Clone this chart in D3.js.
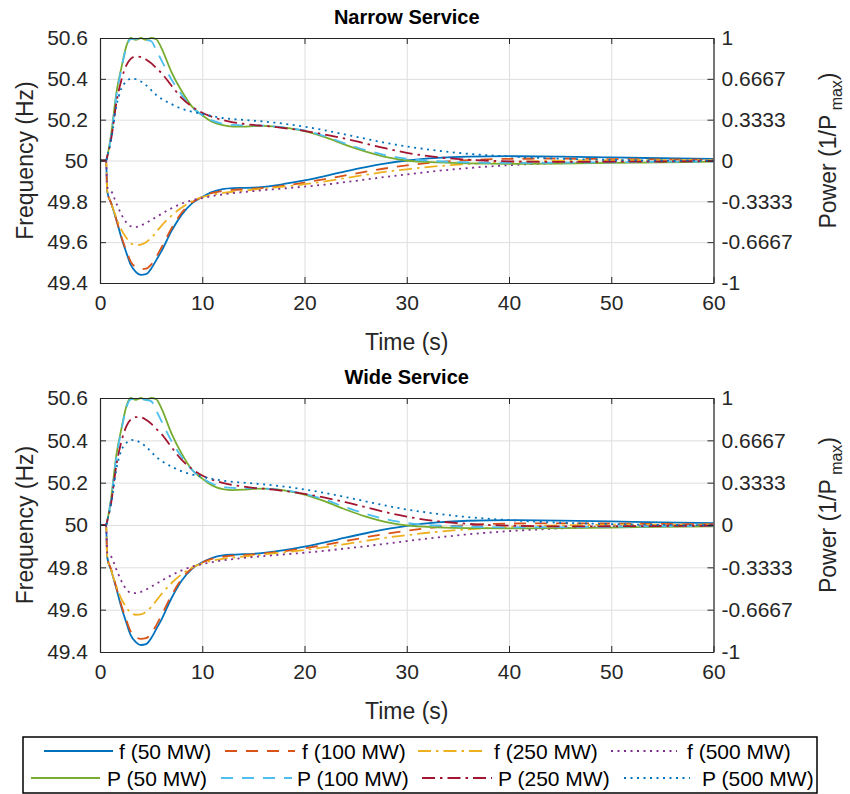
<!DOCTYPE html>
<html>
<head>
<meta charset="utf-8">
<script src="https://cdn.jsdelivr.net/npm/d3@7"></script>
<style>
  body { margin: 0; background: #fff; }
  svg { display: block; font-family: "Liberation Sans", Arial, sans-serif; }
</style>
</head>
<body>
<div id="chart"></div>
<script>
// Time axis (s), shared by every series
const time = [0, 0.6, 0.7, 1.1, 1.6, 2.1, 2.6, 3, 3.5, 4, 4.5, 5, 5.5, 6, 7, 8, 9, 10, 11, 12, 13, 14, 15, 16, 17, 18, 20, 22, 24, 26, 28, 30, 33, 36, 40, 45, 50, 55, 60];

// Narrow service: frequency (Hz)
const nF50 = [50, 50, 49.85, 49.79, 49.71, 49.62, 49.545, 49.49, 49.455, 49.44, 49.443, 49.47, 49.512, 49.555, 49.655, 49.735, 49.79, 49.821, 49.846, 49.86, 49.865, 49.866, 49.867, 49.871, 49.877, 49.885, 49.903, 49.924, 49.947, 49.968, 49.986, 50.0, 50.013, 50.019, 50.021, 50.019, 50.015, 50.011, 50.008];
const nF100 = [50, 50, 49.85, 49.79, 49.71, 49.625, 49.555, 49.505, 49.478, 49.468, 49.47, 49.49, 49.528, 49.573, 49.668, 49.745, 49.795, 49.822, 49.841, 49.851, 49.856, 49.859, 49.862, 49.866, 49.871, 49.877, 49.892, 49.909, 49.927, 49.945, 49.962, 49.976, 49.992, 50.002, 50.008, 50.009, 50.007, 50.005, 50.004];
const nF250 = [50, 50, 49.855, 49.79, 49.72, 49.66, 49.62, 49.595, 49.586, 49.588, 49.6, 49.62, 49.65, 49.68, 49.73, 49.77, 49.8, 49.82, 49.833, 49.841, 49.847, 49.852, 49.857, 49.862, 49.867, 49.872, 49.884, 49.898, 49.914, 49.93, 49.945, 49.957, 49.972, 49.983, 49.993, 49.999, 50.001, 50.002, 50.001];
const nF500 = [50, 50, 49.87, 49.85, 49.79, 49.735, 49.695, 49.678, 49.674, 49.682, 49.694, 49.708, 49.723, 49.738, 49.766, 49.789, 49.805, 49.816, 49.826, 49.834, 49.84, 49.845, 49.85, 49.855, 49.859, 49.863, 49.872, 49.882, 49.894, 49.907, 49.92, 49.932, 49.949, 49.963, 49.977, 49.988, 49.995, 49.998, 50.0];
// Narrow service: power (1/Pmax)
const nP50 = [0, 0, 0.03, 0.22, 0.55, 0.76, 0.94, 1.0, 0.985, 1.0, 0.985, 1.0, 0.99, 0.92, 0.72, 0.565, 0.44, 0.37, 0.315, 0.288, 0.277, 0.276, 0.28, 0.282, 0.277, 0.268, 0.24, 0.19, 0.128, 0.072, 0.027, 0.0, -0.016, -0.024, -0.027, -0.025, -0.02, -0.015, -0.01];
const nP100 = [0, 0, 0.03, 0.21, 0.53, 0.75, 0.93, 0.99, 0.995, 0.99, 0.985, 0.975, 0.9, 0.82, 0.66, 0.535, 0.435, 0.37, 0.325, 0.3, 0.29, 0.287, 0.287, 0.285, 0.279, 0.27, 0.245, 0.198, 0.138, 0.085, 0.042, 0.014, -0.006, -0.015, -0.02, -0.018, -0.015, -0.01, -0.008];
const nP250 = [0, 0, 0.03, 0.18, 0.47, 0.66, 0.78, 0.83, 0.85, 0.845, 0.825, 0.795, 0.755, 0.715, 0.61, 0.51, 0.44, 0.39, 0.355, 0.33, 0.312, 0.3, 0.29, 0.283, 0.275, 0.265, 0.242, 0.212, 0.178, 0.138, 0.098, 0.063, 0.027, 0.006, -0.007, -0.012, -0.01, -0.008, -0.005];
const nP500 = [0, 0, 0.03, 0.17, 0.44, 0.59, 0.645, 0.668, 0.665, 0.645, 0.615, 0.575, 0.535, 0.505, 0.46, 0.422, 0.398, 0.38, 0.362, 0.347, 0.338, 0.332, 0.325, 0.318, 0.31, 0.3, 0.276, 0.246, 0.212, 0.177, 0.143, 0.115, 0.08, 0.055, 0.033, 0.015, 0.005, 0.0, -0.002];

// Wide service: frequency (Hz)
const wF50 = [50, 50, 49.85, 49.785, 49.7, 49.61, 49.535, 49.48, 49.447, 49.433, 49.437, 49.465, 49.508, 49.552, 49.655, 49.738, 49.793, 49.824, 49.845, 49.856, 49.86, 49.862, 49.864, 49.868, 49.874, 49.881, 49.898, 49.918, 49.94, 49.961, 49.98, 49.996, 50.012, 50.02, 50.023, 50.021, 50.017, 50.012, 50.009];
const wF100 = [50, 50, 49.85, 49.79, 49.705, 49.62, 49.548, 49.497, 49.47, 49.462, 49.465, 49.487, 49.526, 49.572, 49.668, 49.746, 49.796, 49.823, 49.841, 49.85, 49.855, 49.858, 49.861, 49.865, 49.87, 49.876, 49.89, 49.906, 49.924, 49.942, 49.959, 49.973, 49.99, 50.0, 50.007, 50.008, 50.007, 50.005, 50.004];
const wF250 = [50, 50, 49.855, 49.785, 49.71, 49.65, 49.61, 49.585, 49.576, 49.578, 49.59, 49.612, 49.642, 49.673, 49.726, 49.768, 49.799, 49.819, 49.832, 49.84, 49.846, 49.851, 49.856, 49.861, 49.866, 49.871, 49.882, 49.895, 49.91, 49.925, 49.94, 49.952, 49.968, 49.98, 49.991, 49.998, 50.001, 50.002, 50.001];
const wF500 = [50, 50, 49.87, 49.85, 49.79, 49.735, 49.695, 49.68, 49.678, 49.684, 49.695, 49.708, 49.722, 49.736, 49.763, 49.786, 49.803, 49.815, 49.825, 49.833, 49.839, 49.844, 49.849, 49.853, 49.857, 49.861, 49.869, 49.878, 49.889, 49.9, 49.912, 49.924, 49.941, 49.956, 49.971, 49.984, 49.993, 49.997, 49.999];
// Wide service: power (1/Pmax)
const wP50 = [0, 0, 0.03, 0.22, 0.55, 0.76, 0.94, 1.0, 0.985, 1.0, 0.985, 1.0, 0.99, 0.92, 0.72, 0.56, 0.435, 0.365, 0.31, 0.283, 0.275, 0.278, 0.284, 0.287, 0.282, 0.272, 0.24, 0.186, 0.122, 0.066, 0.022, -0.003, -0.018, -0.025, -0.027, -0.025, -0.02, -0.015, -0.01];
const wP100 = [0, 0, 0.03, 0.21, 0.53, 0.75, 0.93, 0.99, 0.995, 0.99, 0.985, 0.975, 0.9, 0.82, 0.66, 0.535, 0.435, 0.37, 0.325, 0.3, 0.292, 0.29, 0.29, 0.288, 0.282, 0.273, 0.246, 0.2, 0.14, 0.088, 0.045, 0.016, -0.004, -0.013, -0.018, -0.017, -0.014, -0.01, -0.007];
const wP250 = [0, 0, 0.03, 0.18, 0.47, 0.66, 0.78, 0.83, 0.85, 0.848, 0.828, 0.798, 0.758, 0.718, 0.612, 0.512, 0.442, 0.39, 0.356, 0.332, 0.315, 0.303, 0.293, 0.286, 0.278, 0.268, 0.245, 0.215, 0.18, 0.14, 0.1, 0.066, 0.03, 0.009, -0.005, -0.011, -0.01, -0.008, -0.005];
const wP500 = [0, 0, 0.03, 0.17, 0.44, 0.59, 0.648, 0.67, 0.666, 0.646, 0.616, 0.576, 0.536, 0.506, 0.46, 0.422, 0.398, 0.38, 0.363, 0.349, 0.34, 0.334, 0.327, 0.32, 0.312, 0.303, 0.28, 0.252, 0.22, 0.186, 0.152, 0.122, 0.088, 0.062, 0.038, 0.018, 0.007, 0.001, -0.002];

// Tick values and labels
const xTicks = [0, 10, 20, 30, 40, 50, 60];
const fTicks = [49.4, 49.6, 49.8, 50, 50.2, 50.4, 50.6];
const fTickLabels = ["49.4", "49.6", "49.8", "50", "50.2", "50.4", "50.6"];
const pTicks = [-1, -2 / 3, -1 / 3, 0, 1 / 3, 2 / 3, 1];
const pTickLabels = ["-1", "-0.6667", "-0.3333", "0", "0.3333", "0.6667", "1"];

// Legend names, in plot order
const seriesNames = ["f (50 MW)", "f (100 MW)", "f (250 MW)", "f (500 MW)",
                     "P (50 MW)", "P (100 MW)", "P (250 MW)", "P (500 MW)"];

// Line styles (MATLAB default colour order)
const styles = [
    { color: "#0072BD", dash: null },
    { color: "#D95319", dash: "12,9" },
    { color: "#EDB120", dash: "13,5,2.5,5" },
    { color: "#7E2F8E", dash: "2,4.5" },
    { color: "#77AC30", dash: null },
    { color: "#4DBEEE", dash: "12,9" },
    { color: "#A2142F", dash: "13,5,2.5,5" },
    { color: "#0072BD", dash: "2,4.5" }
];

const svg = d3.select("#chart")
    .append("svg")
    .attr("width", 850)
    .attr("height", 794);

const left = 100, right = 713.5;
const axisColor = "#262626";

function drawPanel(id, title, top, bottom, fSeries, pSeries) {
    // Scales
    const x = d3.scaleLinear().domain([0, 60]).range([left, right]);
    const yF = d3.scaleLinear().domain([49.4, 50.6]).range([bottom, top]);
    const yP = d3.scaleLinear().domain([-1, 1]).range([bottom, top]);

    const g = svg.append("g");

    // Grid lines
    g.append("g")
        .attr("transform", `translate(0,${bottom})`)
        .call(d3.axisBottom(x).tickValues(xTicks).tickSize(-(bottom - top)).tickFormat(""))
        .call(s => s.select(".domain").remove())
        .selectAll("line").attr("stroke", "#dedede").attr("stroke-width", 1);
    g.append("g")
        .attr("transform", `translate(${left},0)`)
        .call(d3.axisLeft(yF).tickValues(fTicks).tickSize(-(right - left)).tickFormat(""))
        .call(s => s.select(".domain").remove())
        .selectAll("line").attr("stroke", "#dedede").attr("stroke-width", 1);

    // Clip the lines to the plot box
    g.append("clipPath").attr("id", id)
        .append("rect")
        .attr("x", left).attr("y", top - 1)
        .attr("width", right - left).attr("height", bottom - top + 2);

    const lines = g.append("g").attr("clip-path", `url(#${id})`);
    const all = fSeries.map(v => ({ vals: v, scale: yF }))
        .concat(pSeries.map(v => ({ vals: v, scale: yP })));

    all.forEach((s, i) => {
        const line = d3.line()
            .x((d, j) => x(time[j]))
            .y(d => s.scale(d))
            .curve(d3.curveMonotoneX);
        lines.append("path")
            .datum(s.vals)
            .attr("fill", "none")
            .attr("stroke", styles[i].color)
            .attr("stroke-width", 1.8)
            .attr("stroke-dasharray", styles[i].dash)
            .attr("d", line);
    });

    // Axes with inward ticks
    const styleAxis = sel => {
        sel.select(".domain").attr("stroke", axisColor).attr("stroke-width", 1.2);
        sel.selectAll(".tick line").attr("stroke", axisColor);
        sel.selectAll("text").attr("fill", axisColor).attr("font-size", 21)
            .attr("font-family", "Liberation Sans, Arial, sans-serif");
    };

    g.append("g")
        .attr("transform", `translate(0,${bottom})`)
        .call(d3.axisBottom(x).tickValues(xTicks).tickSizeInner(-6).tickSizeOuter(0).tickPadding(12))
        .call(styleAxis);
    g.append("g")
        .attr("transform", `translate(0,${top})`)
        .call(d3.axisTop(x).tickValues(xTicks).tickSizeInner(-6).tickSizeOuter(0).tickFormat(""))
        .call(styleAxis);
    g.append("g")
        .attr("transform", `translate(${left},0)`)
        .call(d3.axisLeft(yF).tickValues(fTicks).tickSizeInner(-6).tickSizeOuter(0).tickPadding(12)
            .tickFormat((d, i) => fTickLabels[i]))
        .call(styleAxis);
    g.append("g")
        .attr("transform", `translate(${right},0)`)
        .call(d3.axisRight(yP).tickValues(pTicks).tickSizeInner(-6).tickSizeOuter(0).tickPadding(8)
            .tickFormat((d, i) => pTickLabels[i]))
        .call(styleAxis);

    // Title
    g.append("text")
        .attr("x", (left + right) / 2)
        .attr("y", top - 14)
        .attr("text-anchor", "middle")
        .attr("font-size", 20)
        .attr("font-weight", "bold")
        .attr("fill", "#000")
        .text(title);

    // X axis label
    g.append("text")
        .attr("x", (left + right) / 2)
        .attr("y", bottom + 67)
        .attr("text-anchor", "middle")
        .attr("font-size", 23)
        .attr("fill", axisColor)
        .text("Time (s)");

    const midY = (top + bottom) / 2;

    // Left Y axis label
    g.append("text")
        .attr("transform", `translate(33,${midY}) rotate(-90)`)
        .attr("text-anchor", "middle")
        .attr("font-size", 23)
        .attr("fill", axisColor)
        .text("Frequency (Hz)");

    // Right Y axis label with subscript
    const pLabel = g.append("text")
        .attr("transform", `translate(836,${midY - 10}) rotate(-90)`)
        .attr("text-anchor", "middle")
        .attr("font-size", 23)
        .attr("fill", axisColor);
    pLabel.append("tspan").text("Power (1/P");
    pLabel.append("tspan").attr("font-size", 16).attr("dy", 6).text(" max");
    pLabel.append("tspan").attr("dy", -6).text(")");
}

drawPanel("clipN", "Narrow Service", 38, 283,
    [nF50, nF100, nF250, nF500], [nP50, nP100, nP250, nP500]);
drawPanel("clipW", "Wide Service", 398, 652,
    [wF50, wF100, wF250, wF500], [wP50, wP100, wP250, wP500]);

// Legend
const legend = svg.append("g");
legend.append("rect")
    .attr("x", 23).attr("y", 737)
    .attr("width", 794).attr("height", 56)
    .attr("fill", "#fff")
    .attr("stroke", "#000")
    .attr("stroke-width", 1.5);

// line start, line end, text start and row of each entry
const legendPos = [
    [44, 113, 119, 0], [225, 295, 302, 0], [418, 483, 494, 0], [611, 677, 687, 0],
    [31, 100, 107, 1], [221, 292, 297, 1], [422, 492, 498, 1], [624, 690, 702, 1]
];
const rowY = [751, 778];

seriesNames.forEach((name, i) => {
    const p = legendPos[i];
    legend.append("line")
        .attr("x1", p[0]).attr("x2", p[1])
        .attr("y1", rowY[p[3]]).attr("y2", rowY[p[3]])
        .attr("stroke", styles[i].color)
        .attr("stroke-width", 1.8)
        .attr("stroke-dasharray", styles[i].dash);
    legend.append("text")
        .attr("x", p[2])
        .attr("y", rowY[p[3]] + 7.5)
        .attr("font-size", 21)
        .attr("fill", "#000")
        .text(name);
});
</script>
</body>
</html>
